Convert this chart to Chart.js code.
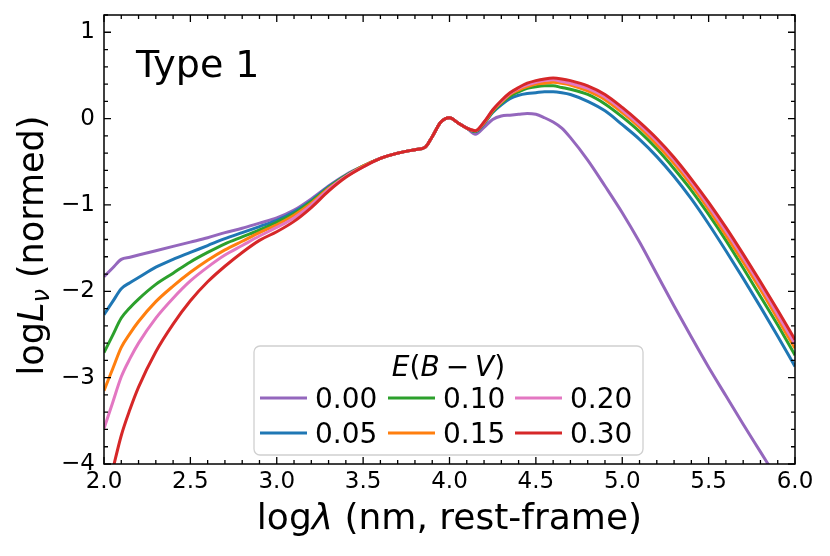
<!DOCTYPE html>
<html lang="en">
<head>
<meta charset="UTF-8">
<title>Type 1 SED</title>
<script src="https://cdn.jsdelivr.net/npm/chart.js@4"></script>
<style>
  html, body { margin: 0; padding: 0; background: #fff; }
  #wrap { width: 830px; height: 556px; }
</style>
</head>
<body>
<div id="wrap"><canvas id="sed"></canvas></div>
<script>
  // log wavelength grid (nm, rest-frame)
  const logLam = [2.0,2.05,2.1,2.15,2.2,2.3,2.4,2.5,2.6,2.7,2.8,2.9,3.0,3.1,3.2,3.3,3.4,3.5,
    3.6,3.7,3.8,3.86,3.9,3.95,4.0,4.05,4.1,
    4.15,4.2,4.25,4.3,4.35,4.4,4.45,4.5,4.55,4.6,4.65,4.7,4.8,4.9,5.0,5.1,5.2,5.3,5.4,5.5,5.6,5.7,5.8,5.9,6.0];

  // logL_nu (normed), one list per E(B-V)
  const ebv000 = [-1.83,-1.73,-1.63,-1.605,-1.58,-1.53,-1.48,-1.43,-1.38,-1.32,-1.27,-1.21,-1.15,-1.06,-0.93,-0.78,-0.65,-0.55,
    -0.46,-0.40,-0.36,-0.33,-0.21,-0.04,0.01,-0.05,-0.11,
    -0.18,-0.10,-0.01,0.03,0.04,0.05,0.06,0.05,0.01,-0.04,-0.11,-0.22,-0.48,-0.78,-1.09,-1.43,-1.80,-2.17,-2.53,-2.88,-3.21,-3.54,-3.86,-4.18,-4.50];
  const ebv005 = [-2.27,-2.12,-1.97,-1.90,-1.84,-1.72,-1.63,-1.55,-1.47,-1.39,-1.32,-1.25,-1.18,-1.08,-0.95,-0.79,-0.66,-0.55,
    -0.46,-0.40,-0.36,-0.33,-0.21,-0.04,0.01,-0.05,-0.11,
    -0.15,-0.06,0.07,0.16,0.23,0.27,0.29,0.30,0.31,0.31,0.30,0.28,0.20,0.09,-0.07,-0.24,-0.44,-0.67,-0.93,-1.22,-1.53,-1.85,-2.18,-2.52,-2.87];
  const ebv010 = [-2.71,-2.51,-2.31,-2.19,-2.09,-1.92,-1.79,-1.66,-1.55,-1.45,-1.37,-1.29,-1.20,-1.10,-0.96,-0.80,-0.66,-0.55,
    -0.46,-0.40,-0.36,-0.33,-0.21,-0.04,0.01,-0.05,-0.11,
    -0.15,-0.05,0.08,0.18,0.26,0.31,0.35,0.37,0.38,0.38,0.36,0.34,0.28,0.17,0.02,-0.15,-0.35,-0.58,-0.83,-1.11,-1.41,-1.73,-2.06,-2.39,-2.74];
  const ebv015 = [-3.15,-2.90,-2.65,-2.49,-2.35,-2.12,-1.94,-1.78,-1.64,-1.52,-1.42,-1.32,-1.23,-1.12,-0.98,-0.81,-0.67,-0.55,
    -0.46,-0.40,-0.36,-0.33,-0.21,-0.04,0.01,-0.05,-0.11,
    -0.14,-0.05,0.09,0.19,0.28,0.33,0.37,0.40,0.41,0.42,0.41,0.39,0.32,0.22,0.07,-0.10,-0.30,-0.52,-0.77,-1.05,-1.35,-1.66,-1.98,-2.32,-2.66];
  const ebv020 = [-3.59,-3.29,-2.99,-2.78,-2.60,-2.31,-2.08,-1.88,-1.72,-1.58,-1.47,-1.36,-1.26,-1.15,-1.00,-0.82,-0.67,-0.56,
    -0.46,-0.40,-0.36,-0.33,-0.21,-0.04,0.01,-0.05,-0.11,
    -0.14,-0.04,0.10,0.20,0.29,0.35,0.39,0.42,0.44,0.45,0.43,0.41,0.35,0.25,0.10,-0.07,-0.26,-0.48,-0.73,-1.01,-1.30,-1.61,-1.93,-2.27,-2.61];
  const ebv030 = [-4.47,-4.07,-3.67,-3.37,-3.11,-2.70,-2.38,-2.11,-1.89,-1.71,-1.55,-1.41,-1.31,-1.19,-1.03,-0.84,-0.68,-0.56,
    -0.46,-0.40,-0.36,-0.33,-0.21,-0.04,0.01,-0.05,-0.11,
    -0.14,-0.04,0.10,0.21,0.30,0.36,0.41,0.44,0.46,0.47,0.46,0.44,0.38,0.28,0.13,-0.04,-0.23,-0.45,-0.70,-0.97,-1.26,-1.57,-1.89,-2.22,-2.56];

  const ebvLabels = ['0.00', '0.05', '0.10', '0.15', '0.20', '0.30'];
  const ebvSeries = [ebv000, ebv005, ebv010, ebv015, ebv020, ebv030];
  const ebvColors = ['#9467bd', '#1f77b4', '#2ca02c', '#ff7f0e', '#e377c2', '#d62728'];

  const xTicks = [2.0, 2.5, 3.0, 3.5, 4.0, 4.5, 5.0, 5.5, 6.0];
  const yTicks = [-4, -3, -2, -1, 0, 1];

  const FONT = "'DejaVu Sans', sans-serif";

  // draw a run of text pieces (normal / italic / subscript)
  function drawPieces(ctx, pieces, x, y, align) {
    const widths = pieces.map(p => {
      ctx.font = (p.italic ? 'italic ' : '') + p.size + 'px ' + FONT;
      return ctx.measureText(p.t).width + (p.gap || 0) * 2;
    });
    const total = widths.reduce((a, b) => a + b, 0);
    let cx = align === 'center' ? x - total / 2 : x;
    pieces.forEach((p, i) => {
      ctx.font = (p.italic ? 'italic ' : '') + p.size + 'px ' + FONT;
      ctx.fillText(p.t, cx + (p.gap || 0), y + (p.dy || 0));
      cx += widths[i];
    });
  }

  const frame = {
    id: 'frame',
    afterDatasetsDraw(chart) {
      const { ctx, chartArea: a, scales: { x, y } } = chart;
      ctx.save();
      ctx.strokeStyle = '#000';
      ctx.lineWidth = 1.3;
      ctx.beginPath();
      for (let i = 0; i <= 40; i++) {
        const v = 2 + i * 0.1;
        const px = x.getPixelForValue(v);
        const len = i % 5 === 0 ? 7 : 4;
        ctx.moveTo(px, a.bottom); ctx.lineTo(px, a.bottom - len);
        ctx.moveTo(px, a.top); ctx.lineTo(px, a.top + len);
      }
      for (let i = 0; i <= 26; i++) {
        const v = -4 + i * 0.2;
        const py = y.getPixelForValue(v);
        const len = i % 5 === 0 ? 7 : 4;
        ctx.moveTo(a.left, py); ctx.lineTo(a.left + len, py);
        ctx.moveTo(a.right, py); ctx.lineTo(a.right - len, py);
      }
      ctx.stroke();
      ctx.lineWidth = 1.5;
      ctx.strokeRect(a.left, a.top, a.right - a.left, a.bottom - a.top);
      ctx.restore();
    }
  };

  const annotations = {
    id: 'annotations',
    afterDraw(chart) {
      const { ctx, chartArea: a } = chart;
      ctx.save();
      ctx.fillStyle = '#000';
      ctx.textBaseline = 'alphabetic';

      // panel tag
      ctx.font = '38px ' + FONT;
      ctx.fillText('Type 1', 136, 77);

      // x axis title
      drawPieces(ctx, [
        { t: 'log', size: 36 },
        { t: 'λ', size: 36, italic: true },
        { t: ' (nm, rest-frame)', size: 36 }
      ], (a.left + a.right) / 2, 529, 'center');

      // y axis title
      ctx.save();
      ctx.translate(43, (a.top + a.bottom) / 2 + 6);
      ctx.rotate(-Math.PI / 2);
      drawPieces(ctx, [
        { t: 'log', size: 35 },
        { t: 'L', size: 35, italic: true },
        { t: 'ν', size: 24, italic: true, dy: 6 },
        { t: ' (normed)', size: 35 }
      ], 0, 0, 'center');
      ctx.restore();

      // legend box
      const bx = 254, by = 346, bw = 389, bh = 109, r = 6;
      ctx.beginPath();
      ctx.roundRect(bx, by, bw, bh, r);
      ctx.fillStyle = 'rgba(255,255,255,0.8)';
      ctx.fill();
      ctx.strokeStyle = '#d0d0d0';
      ctx.lineWidth = 1.3;
      ctx.stroke();

      ctx.fillStyle = '#000';
      drawPieces(ctx, [
        { t: 'E', size: 28, italic: true },
        { t: '(', size: 28 },
        { t: 'B', size: 28, italic: true },
        { t: '−', size: 28, gap: 6 },
        { t: 'V', size: 28, italic: true },
        { t: ')', size: 28 }
      ], bx + bw / 2, 376, 'center');

      const colX = [260, 388, 515];
      const rowY = [398, 433];
      chart.data.datasets.forEach((ds, i) => {
        const col = Math.floor(i / 2), row = i % 2;
        const lx = colX[col], ly = rowY[row];
        ctx.strokeStyle = ds.borderColor;
        ctx.lineWidth = 3;
        ctx.beginPath();
        ctx.moveTo(lx, ly); ctx.lineTo(lx + 47, ly);
        ctx.stroke();
        ctx.fillStyle = '#000';
        ctx.font = '28px ' + FONT;
        ctx.fillText(ds.label, lx + 55, ly + 10);
      });
      ctx.restore();
    }
  };

  const datasets = ebvSeries.map((s, i) => ({
    label: ebvLabels[i],
    data: logLam.map((x, j) => ({ x: x, y: s[j] })),
    borderColor: ebvColors[i],
    borderWidth: 3,
    pointRadius: 0,
    fill: false,
    cubicInterpolationMode: 'monotone',
    order: ebvSeries.length - 1 - i
  }));

  new Chart(document.getElementById('sed'), {
    type: 'line',
    data: { datasets: datasets },
    options: {
      responsive: true,
      maintainAspectRatio: false,
      animation: false,
      layout: { padding: { top: 15, right: 35, left: 0, bottom: 0 } },
      plugins: { legend: { display: false }, tooltip: { enabled: false } },
      scales: {
        x: {
          type: 'linear', min: 2, max: 6,
          afterBuildTicks: s => { s.ticks = xTicks.map(v => ({ value: v })); },
          afterFit: s => { s.height = 92; s.paddingLeft = 0; s.paddingRight = 0; },
          grid: { display: false, drawTicks: false },
          border: { display: false },
          ticks: {
            color: '#000', padding: 4, maxRotation: 0, autoSkip: false,
            font: { family: FONT, size: 23 },
            callback: v => v.toFixed(1)
          }
        },
        y: {
          type: 'linear', min: -4, max: 1.2,
          afterBuildTicks: s => { s.ticks = yTicks.map(v => ({ value: v })); },
          afterFit: s => { s.width = 104; s.paddingTop = 0; s.paddingBottom = 0; },
          grid: { display: false, drawTicks: false },
          border: { display: false },
          ticks: {
            color: '#000', padding: 9, autoSkip: false,
            font: { family: FONT, size: 23 },
            callback: v => (v < 0 ? '\u2212' : '') + Math.abs(v)
          }
        }
      }
    },
    plugins: [frame, annotations]
  });
</script>
</body>
</html>
